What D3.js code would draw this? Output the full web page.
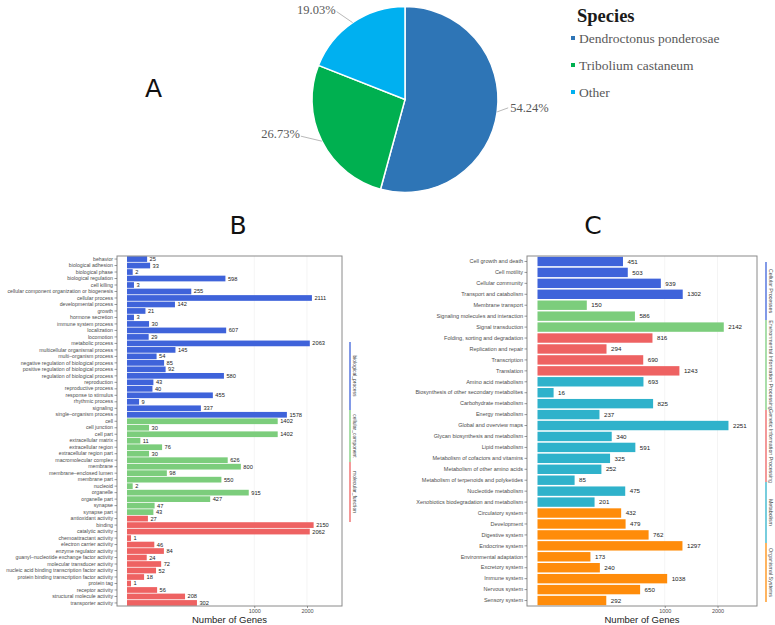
<!DOCTYPE html>
<html><head><meta charset="utf-8">
<script src="https://cdn.jsdelivr.net/npm/d3@7"></script>
<style>body{margin:0;background:#fff} svg{display:block}</style>
</head><body>
<svg id="c" width="775" height="625"></svg>
<script>
// ---------- DATA ----------
const speciesNames = ["Dendroctonus ponderosae", "Tribolium castaneum", "Other"];
const speciesPct = [54.24, 26.73, 19.03];
const speciesColors = ["#2e75b6", "#00b050", "#00b0f0"];

const goBPTerms = ["behavior","biological adhesion","biological phase","biological regulation","cell killing","cellular component organization or biogenesis","cellular process","developmental process","growth","hormone secretion","immune system process","localization","locomotion","metabolic process","multicellular organismal process","multi\u2013organism process","negative regulation of biological process","positive regulation of biological process","regulation of biological process","reproduction","reproductive process","response to stimulus","rhythmic process","signaling","single\u2013organism process"];
const goBPValues = [25,33,2,598,3,255,2111,142,21,3,30,607,29,2063,145,54,85,92,580,43,40,455,9,337,1578];
const goCCTerms = ["cell","cell junction","cell part","extracellular matrix","extracellular region","extracellular region part","macromolecular complex","membrane","membrane\u2013enclosed lumen","membrane part","nucleoid","organelle","organelle part","synapse","synapse part"];
const goCCValues = [1402,30,1402,11,76,30,626,800,98,550,2,915,427,47,43];
const goMFTerms = ["antioxidant activity","binding","catalytic activity","chemoattractant activity","electron carrier activity","enzyme regulator activity","guanyl\u2013nucleotide exchange factor activity","molecular transducer activity","nucleic acid binding transcription factor activity","protein binding transcription factor activity","protein tag","receptor activity","structural molecule activity","transporter activity"];
const goMFValues = [27,2150,2062,1,46,84,24,72,52,18,1,56,208,302];
const goClassNames = ["biological_process","cellular_component","molecular_function"];

const keggCPTerms = ["Cell growth and death","Cell motility","Cellular community","Transport and catabolism"];
const keggCPValues = [451,503,939,1302];
const keggEIPTerms = ["Membrane transport","Signaling molecules and interaction","Signal transduction"];
const keggEIPValues = [150,586,2142];
const keggGIPTerms = ["Folding, sorting and degradation","Replication and repair","Transcription","Translation"];
const keggGIPValues = [816,294,690,1243];
const keggMTerms = ["Amino acid metabolism","Biosynthesis of other secondary metabolites","Carbohydrate metabolism","Energy metabolism","Global and overview maps","Glycan biosynthesis and metabolism","Lipid metabolism","Metabolism of cofactors and vitamins","Metabolism of other amino acids","Metabolism of terpenoids and polyketides","Nucleotide metabolism","Xenobiotics biodegradation and metabolism"];
const keggMValues = [693,16,825,237,2251,340,591,325,252,85,475,201];
const keggOSTerms = ["Circulatory system","Development","Digestive system","Endocrine system","Environmental adaptation","Excretory system","Immune system","Nervous system","Sensory system"];
const keggOSValues = [432,479,762,1297,173,240,1038,650,292];
const keggClassNames = ["Cellular Processes","Environmental Information Processing","Genetic Information Processing","Metabolism","Organismal Systems"];

const xTickValues = [1000, 2000];
const xTitle = "Number of Genes";

// ---------- STYLE / LAYOUT ----------
const classColors = ["#3f63da", "#7ccd7c", "#ee6262", "#2fb2cb", "#ff8c0a"];
const svg = d3.select("#c");

// Panel letters
const letterFont = "'DejaVu Sans', sans-serif";
svg.append("text").attr("x", 145).attr("y", 97).attr("font-family", letterFont).attr("font-size", 25).attr("fill", "#111").text("A");
svg.append("text").attr("x", 238).attr("y", 234).attr("text-anchor", "middle").attr("font-family", letterFont).attr("font-size", 25).attr("fill", "#111").text("B");
svg.append("text").attr("x", 593).attr("y", 234).attr("text-anchor", "middle").attr("font-family", letterFont).attr("font-size", 25).attr("fill", "#111").text("C");

// ---------- PIE ----------
(function () {
  const cx = 405, cy = 99.5, r = 93;
  const g = svg.append("g").attr("transform", `translate(${cx},${cy})`);
  const pie = d3.pie().sort(null).value(d => d).startAngle(0).endAngle(2 * Math.PI);
  const arcs = pie(speciesPct);
  const arc = d3.arc().innerRadius(0).outerRadius(r);
  g.selectAll("path.slice").data(arcs).join("path")
    .attr("class", "slice")
    .attr("d", arc)
    .attr("fill", (d, i) => speciesColors[i])
    .attr("stroke", "#fff").attr("stroke-width", 1.5);
  const leaderOffsets = [[11, -4], [-21, -5], [-16, -11]];
  const textOffsets = [[2, 0], [-1, -3], [-1, -2]];
  arcs.forEach((a, i) => {
    const m = (a.startAngle + a.endAngle) / 2;
    const sx = r * Math.sin(m), sy = -r * Math.cos(m);
    const ex = sx + leaderOffsets[i][0], ey = sy + leaderOffsets[i][1];
    g.append("line").attr("x1", sx).attr("y1", sy).attr("x2", ex).attr("y2", ey)
      .attr("stroke", "#a6a6a6").attr("stroke-width", 0.8);
    g.append("text")
      .attr("x", ex + textOffsets[i][0]).attr("y", ey + textOffsets[i][1])
      .attr("dy", "0.35em")
      .attr("text-anchor", leaderOffsets[i][0] > 0 ? "start" : "end")
      .attr("font-family", "'Liberation Serif', 'Times New Roman', serif")
      .attr("font-size", 12.5).attr("fill", "#595959")
      .text(d3.format(".2f")(speciesPct[i]) + "%");
  });
  // legend
  const lg = svg.append("g").attr("transform", "translate(571,0)");
  lg.append("text").attr("x", 6).attr("y", 22)
    .attr("font-family", "'Liberation Serif', 'Times New Roman', serif")
    .attr("font-weight", "bold").attr("font-size", 18.5).attr("fill", "#1a1a1a").text("Species");
  const itemY = d3.scalePoint().domain(speciesNames).range([38, 92]);
  speciesNames.forEach((n, i) => {
    lg.append("rect").attr("x", 0).attr("y", itemY(n) - 2).attr("width", 4).attr("height", 4).attr("fill", speciesColors[i]);
    lg.append("text").attr("x", 8).attr("y", itemY(n)).attr("dy", "0.35em")
      .attr("font-family", "'Liberation Serif', 'Times New Roman', serif")
      .attr("font-size", 13.5).attr("fill", "#595959").text(n);
  });
})();

// ---------- BAR PANELS ----------
function barPanel(opt) {
  const { terms, values, cls, classNames, left, right, top, bottom, zeroX, x2000,
          labelSize, valueSize, valueGap, padInner, padOuter, stripX, stripSegs, stripSize } = opt;
  const g = svg.append("g");
  const x = d3.scaleSqrt().domain([0, 2000]).range([zeroX, x2000]);
  const y = d3.scaleBand().domain(terms).range([top, bottom]).paddingInner(padInner).paddingOuter(padOuter);

  // grid
  g.selectAll("line.grid").data(xTickValues).join("line")
    .attr("x1", d => x(d)).attr("x2", d => x(d)).attr("y1", top).attr("y2", bottom)
    .attr("stroke", "#ececec").attr("stroke-width", 0.6);

  // bars
  g.selectAll("rect.bar").data(terms).join("rect")
    .attr("x", x(0)).attr("y", d => y(d))
    .attr("width", (d, i) => x(values[i]) - x(0))
    .attr("height", y.bandwidth())
    .attr("fill", (d, i) => classColors[cls[i]]);

  // value labels
  g.selectAll("text.val").data(terms).join("text")
    .attr("x", (d, i) => x(values[i]) + valueGap)
    .attr("y", d => y(d) + y.bandwidth() / 2)
    .attr("dy", "0.35em")
    .attr("font-family", "'Liberation Sans', Arial, sans-serif")
    .attr("font-size", valueSize).attr("fill", "#222")
    .text((d, i) => values[i]);

  // frame
  g.append("rect").attr("x", left).attr("y", top).attr("width", right - left).attr("height", bottom - top)
    .attr("fill", "none").attr("stroke", "#8a8a8a").attr("stroke-width", 1);

  // y axis
  const ya = g.append("g").attr("transform", `translate(${left},0)`)
    .call(d3.axisLeft(y).tickSize(2.5).tickPadding(1.5));
  ya.select(".domain").remove();
  ya.selectAll("line").attr("stroke", "#555").attr("stroke-width", 0.6);
  ya.selectAll("text").attr("font-family", "'Liberation Sans', Arial, sans-serif")
    .attr("font-size", labelSize).attr("fill", "#4d4d4d");

  // x axis
  const xa = g.append("g").attr("transform", `translate(0,${bottom})`)
    .call(d3.axisBottom(x).tickValues(xTickValues).tickSize(2).tickPadding(1.5).tickFormat(d3.format("d")));
  xa.select(".domain").remove();
  xa.selectAll("line").attr("stroke", "#555").attr("stroke-width", 0.6);
  xa.selectAll("text").attr("font-family", "'Liberation Sans', Arial, sans-serif")
    .attr("font-size", 5.5).attr("fill", "#4d4d4d");

  g.append("text").attr("x", (left + right) / 2).attr("y", 623).attr("text-anchor", "middle")
    .attr("font-family", "'Liberation Sans', Arial, sans-serif").attr("font-size", 9.5).attr("fill", "#222")
    .text(xTitle);

  // class strip legend
  classNames.forEach((n, i) => {
    const [s, e] = stripSegs[i];
    g.append("line").attr("x1", stripX).attr("x2", stripX).attr("y1", s).attr("y2", e)
      .attr("stroke", classColors[i]).attr("stroke-width", 1.3);
    g.append("text").attr("transform", `translate(${stripX + 2},${(s + e) / 2}) rotate(90)`)
      .attr("text-anchor", "middle").attr("dy", "-0.2em")
      .attr("font-family", "'Liberation Sans', Arial, sans-serif")
      .attr("font-size", stripSize).attr("fill", "#444").text(n);
  });
}

const goTerms = goBPTerms.concat(goCCTerms, goMFTerms);
const goValues = goBPValues.concat(goCCValues, goMFValues);
const goCls = goBPTerms.map(() => 0).concat(goCCTerms.map(() => 1), goMFTerms.map(() => 2));

barPanel({
  terms: goTerms, values: goValues, cls: goCls, classNames: goClassNames,
  left: 117, right: 342, top: 256, bottom: 606, zeroX: 127, x2000: 307,
  labelSize: 5.2, valueSize: 5.7, valueGap: 2.5, padInner: 0.12, padOuter: 0.03,
  stripX: 350, stripSegs: [[342, 410], [410, 462], [462, 522]], stripSize: 5
});

const keggTerms = keggCPTerms.concat(keggEIPTerms, keggGIPTerms, keggMTerms, keggOSTerms);
const keggValues = keggCPValues.concat(keggEIPValues, keggGIPValues, keggMValues, keggOSValues);
const keggCls = [keggCPTerms, keggEIPTerms, keggGIPTerms, keggMTerms, keggOSTerms]
  .flatMap((arr, k) => arr.map(() => k));

barPanel({
  terms: keggTerms, values: keggValues, cls: keggCls, classNames: keggClassNames,
  left: 527, right: 757, top: 256, bottom: 606, zeroX: 537.5, x2000: 717.5,
  labelSize: 5.5, valueSize: 6.2, valueGap: 4.5, padInner: 0.14, padOuter: 0.07,
  stripX: 766, stripSegs: [[262, 320], [320, 410], [410, 482], [482, 543], [543, 602]], stripSize: 5.3
});
</script>
</body></html>
